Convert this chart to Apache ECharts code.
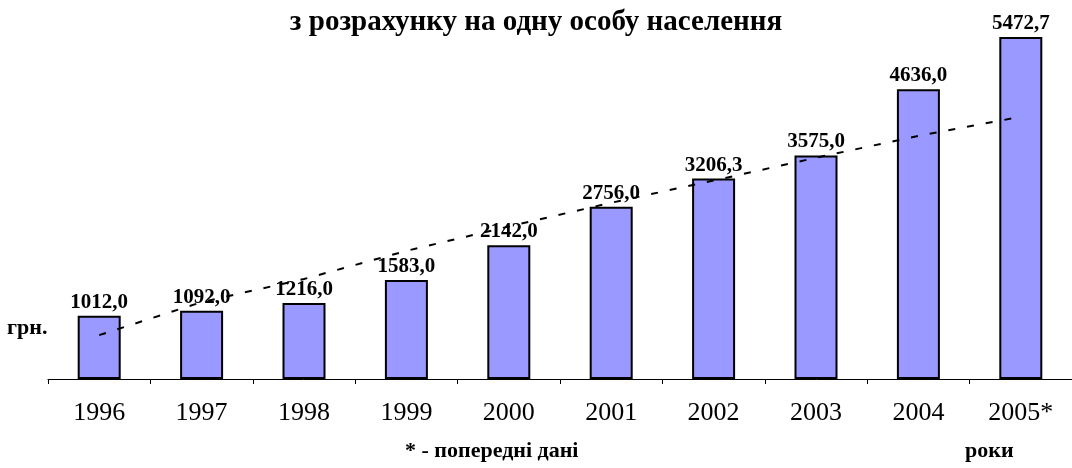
<!DOCTYPE html>
<html>
<head>
<meta charset="utf-8">
<script src="https://cdn.jsdelivr.net/npm/echarts@6/dist/echarts.min.js"></script>
<style>
  html, body { margin: 0; padding: 0; background: #fff; }
  #main { width: 1072px; height: 468px; }
</style>
</head>
<body>
<div id="main"></div>
<script>
// роки
var years = ['1996', '1997', '1998', '1999', '2000', '2001', '2002', '2003', '2004', '2005*'];
// грн. на одну особу
var values = [1012.0, 1092.0, 1216.0, 1583.0, 2142.0, 2756.0, 3206.3, 3575.0, 4636.0, 5472.7];
// лінія тренду
var trend = [702, 1230, 1600, 2050, 2440, 2820, 3175, 3540, 3890, 4195];

var serif = '"Liberation Serif", "Times New Roman", serif';

var chart = echarts.init(document.getElementById('main'));

var option = {
  animation: false,
  title: {
    text: 'з розрахунку на одну особу населення',
    left: 'center',
    top: 3,
    textStyle: { fontFamily: serif, fontSize: 29, fontWeight: 'bold', color: '#000' }
  },
  grid: { left: 48, right: -7, top: 4, bottom: 89, containLabel: false },
  xAxis: {
    type: 'category',
    data: years,
    axisLine: { lineStyle: { color: '#000', width: 1 } },
    axisTick: { show: true, length: 5, lineStyle: { color: '#000' } },
    axisLabel: { fontFamily: serif, fontSize: 26, color: '#000', margin: 21 }
  },
  yAxis: {
    type: 'value',
    min: 0,
    max: 6000,
    show: false,
    splitLine: { show: false }
  },
  series: [
    {
      type: 'bar',
      data: values,
      barWidth: 43,
      itemStyle: { color: '#9999FF', borderColor: '#000', borderWidth: 2 },
      label: {
        show: true,
        position: 'top',
        distance: 3,
        fontFamily: serif,
        fontSize: 21,
        fontWeight: 'bold',
        color: '#000',
        formatter: function (p) { return p.value.toFixed(1).replace('.', ','); }
      },
      z: 2
    },
    {
      type: 'line',
      data: trend,
      symbol: 'none',
      lineStyle: { color: '#000', width: 2, type: [7, 12] },
      z: 5
    }
  ],
  graphic: [
    {
      type: 'text', left: 7, top: 317,
      style: { text: 'грн.', font: 'bold 22px ' + serif, fill: '#000' }
    },
    {
      type: 'text', left: 405, top: 440,
      style: { text: '* - попередні дані', font: 'bold 22px ' + serif, fill: '#000' }
    },
    {
      type: 'text', left: 965, top: 440,
      style: { text: 'роки', font: 'bold 22px ' + serif, fill: '#000' }
    }
  ]
};

chart.setOption(option);
</script>
</body>
</html>
